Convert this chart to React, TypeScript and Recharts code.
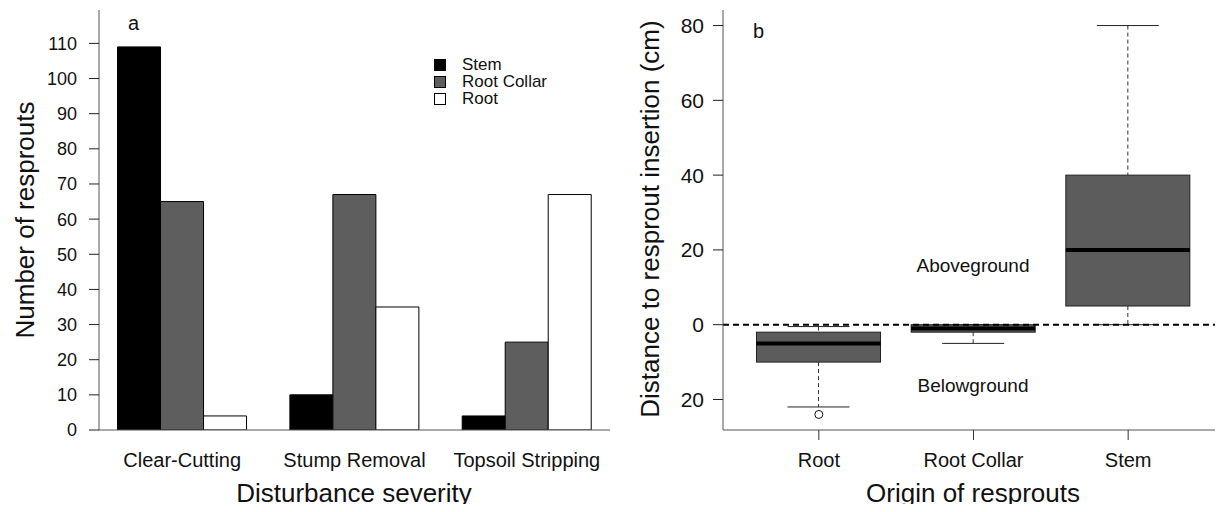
import { BarChart, Bar, ComposedChart, Scatter, XAxis, YAxis, ReferenceLine, Legend } from 'recharts';

const FONT = '"Liberation Sans", Arial, Helvetica, sans-serif';
const FRAME = '#555';
const INK = '#111';

// panel a: number of resprouts per disturbance
const SEVERITY = ['Clear-Cutting', 'Stump Removal', 'Topsoil Stripping'];
const SERIES = ['Stem', 'Root Collar', 'Root'];
const STEM = [109, 10, 4];
const ROOT_COLLAR = [65, 67, 25];
const ROOT = [4, 35, 67];
const COUNT_TICKS = [0, 10, 20, 30, 40, 50, 60, 70, 80, 90, 100, 110];

// panel b: distance to resprout insertion, box stats per origin
const ORIGINS = ['Root', 'Root Collar', 'Stem'];
const LOWER = [-22, -5, 0];
const Q1 = [-10, -2, 5];
const MEDIAN = [-5, -1, 20];
const Q3 = [-2, 0, 40];
const UPPER = [-0.5, 0, 80];
const OUTLIERS = [{ origin: 'Root', value: -24 }];
const DIST_TICKS = [-20, 0, 20, 40, 60, 80];

const countData = SEVERITY.map((s, i) => ({
  severity: s,
  Stem: STEM[i],
  'Root Collar': ROOT_COLLAR[i],
  Root: ROOT[i],
}));

const boxData = ORIGINS.map((o, i) => ({
  origin: o,
  lo: LOWER[i],
  q1: Q1[i],
  med: MEDIAN[i],
  q3: Q3[i],
  hi: UPPER[i],
  range: [LOWER[i], UPPER[i]],
}));

const TICK_A = { fontSize: 18, fill: INK, fontFamily: FONT };
const TICK_B = { fontSize: 21, fill: INK, fontFamily: FONT };
const CAT = { fontSize: 20, fill: INK, fontFamily: FONT };

function SeriesLegend({ payload }: any) {
  const items = [...(payload || [])].sort((a: any, b: any) => SERIES.indexOf(a.value) - SERIES.indexOf(b.value));
  return (
    <div style={{ fontFamily: FONT, fontSize: 17, color: INK }}>
      {items.map((p: any) => (
        <div key={p.value} style={{ display: 'flex', alignItems: 'center', height: 17 }}>
          <span style={{ width: 12, height: 12, background: p.color, border: '1px solid #000', boxSizing: 'border-box', marginRight: 16 }} />
          <span>{p.value}</span>
        </div>
      ))}
    </div>
  );
}

// whiskers + box + median, scaled from the bar's own [lo, hi] geometry
function BoxShape(props: any) {
  const { x, y, width, height, payload } = props;
  const top = Math.min(y, y + height);
  const h = Math.abs(height);
  const { lo, hi, q1, q3, med } = payload;
  const py = (v: number) => top + ((hi - v) * h) / (hi - lo);
  const cx = x + width / 2;
  const cap = width / 4;
  return (
    <g>
      <line x1={cx} x2={cx} y1={py(hi)} y2={py(q3)} stroke="#333" strokeDasharray="4 3" />
      <line x1={cx} x2={cx} y1={py(q1)} y2={py(lo)} stroke="#333" strokeDasharray="4 3" />
      <line x1={cx - cap} x2={cx + cap} y1={py(hi)} y2={py(hi)} stroke="#222" />
      <line x1={cx - cap} x2={cx + cap} y1={py(lo)} y2={py(lo)} stroke="#222" />
      <rect x={x} y={py(q3)} width={width} height={py(q1) - py(q3)} fill="#5c5c5c" stroke="#222" />
      <line x1={x} x2={x + width} y1={py(med)} y2={py(med)} stroke="#000" strokeWidth={4} />
    </g>
  );
}

function Outlier(props: any) {
  const { cx, cy } = props;
  return <circle cx={cx} cy={cy} r={4} fill="#fff" stroke="#111" />;
}

function PanelA() {
  return (
    <BarChart
      width={620}
      height={512}
      data={countData}
      margin={{ top: 10, right: 10, bottom: 0, left: 0 }}
      barGap={0}
      barCategoryGap="12.5%"
    >
      <XAxis
        dataKey="severity"
        height={82}
        padding={{ left: -3, right: -3 }}
        axisLine={{ stroke: FRAME }}
        tickLine={false}
        tickSize={0}
        tickMargin={23}
        tick={CAT}
        interval={0}
      />
      <XAxis xAxisId="top" orientation="top" height={0} tick={false} tickLine={false} axisLine={{ stroke: FRAME }} />
      <YAxis
        width={99}
        domain={[0, 119.5]}
        ticks={COUNT_TICKS}
        interval={0}
        allowDataOverflow
        axisLine={{ stroke: FRAME }}
        tickLine={{ stroke: '#222' }}
        tickSize={10}
        tickMargin={12}
        tick={TICK_A}
      />
      <YAxis yAxisId="right" orientation="right" width={0} type="number" domain={[0, 1]} tick={false} tickLine={false} axisLine={{ stroke: FRAME }} />
      <Legend
        layout="vertical"
        align="center"
        verticalAlign="middle"
        content={<SeriesLegend />}
        wrapperStyle={{ left: 434, top: 56, width: 'auto' }}
      />
      <Bar dataKey="Stem" fill="#000" stroke="#000" isAnimationActive={false} />
      <Bar dataKey="Root Collar" fill="#5e5e5e" stroke="#000" isAnimationActive={false} />
      <Bar dataKey="Root" fill="#fff" stroke="#000" isAnimationActive={false} />
      <text x={128} y={30} fontSize={20} fontFamily={FONT} fill={INK}>a</text>
      <text x={34} y={220} fontSize={26} fontFamily={FONT} fill={INK} textAnchor="middle" transform="rotate(-90 34 220)">
        Number of resprouts
      </text>
      <text x={354} y={502} fontSize={26} fontFamily={FONT} fill={INK} textAnchor="middle">
        Disturbance severity
      </text>
    </BarChart>
  );
}

function PanelB() {
  return (
    <ComposedChart
      width={623}
      height={512}
      data={boxData}
      margin={{ top: 10, right: 0, bottom: 0, left: 0 }}
    >
      <XAxis
        dataKey="origin"
        height={82}
        allowDuplicatedCategory={false}
        padding={{ left: 18.5, right: 17.5 }}
        axisLine={{ stroke: FRAME }}
        tickLine={{ stroke: '#333' }}
        tickSize={10}
        tickMargin={13}
        tick={CAT}
        interval={0}
      />
      <XAxis xAxisId="top" orientation="top" height={0} tick={false} tickLine={false} axisLine={{ stroke: FRAME }} />
      <YAxis
        width={123}
        type="number"
        domain={[-28.16, 84.16]}
        ticks={DIST_TICKS}
        interval={0}
        allowDataOverflow
        axisLine={{ stroke: FRAME }}
        tickLine={{ stroke: '#222' }}
        tickSize={10}
        tickMargin={9}
        tick={TICK_B}
        tickFormatter={(v: number) => String(Math.abs(v))}
      />
      <ReferenceLine y={0} stroke="#000" strokeWidth={2} strokeDasharray="6 4" />
      <Bar dataKey="range" barSize={124} shape={<BoxShape />} isAnimationActive={false} />
      <Scatter data={OUTLIERS} dataKey="value" shape={<Outlier />} isAnimationActive={false} />
      <text x={153} y={38} fontSize={20} fontFamily={FONT} fill={INK}>b</text>
      <text x={373} y={272} fontSize={19} fontFamily={FONT} fill={INK} textAnchor="middle">Aboveground</text>
      <text x={373} y={392} fontSize={19} fontFamily={FONT} fill={INK} textAnchor="middle">Belowground</text>
      <text x={59} y={219} fontSize={26} fontFamily={FONT} fill={INK} textAnchor="middle" transform="rotate(-90 59 219)">
        Distance to resprout insertion (cm)
      </text>
      <text x={373} y={502} fontSize={26} fontFamily={FONT} fill={INK} textAnchor="middle">
        Origin of resprouts
      </text>
    </ComposedChart>
  );
}

export default function App() {
  return (
    <div style={{ position: 'relative', width: 1223, height: 512, margin: -8, overflow: 'hidden', background: '#fff' }}>
      <div style={{ position: 'absolute', left: 0, top: 0 }}>
        <PanelA />
      </div>
      <div style={{ position: 'absolute', left: 600, top: 0 }}>
        <PanelB />
      </div>
    </div>
  );
}
